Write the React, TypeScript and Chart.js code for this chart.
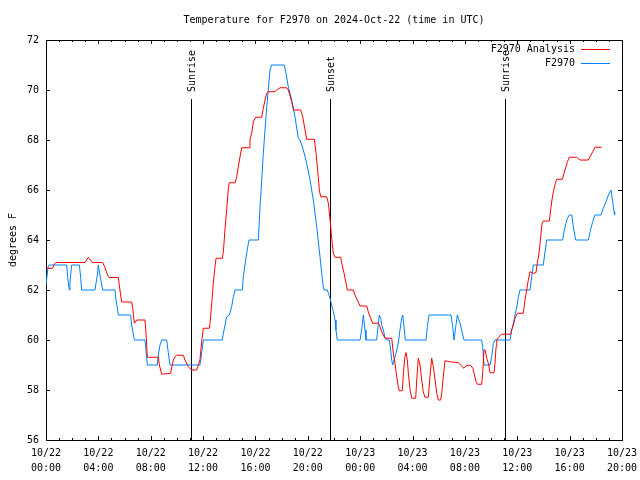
import React, { useEffect, useRef } from "react";
import { Chart, registerables } from "chart.js";

Chart.register(...registerables);

const TITLE = "Temperature for F2970 on 2024-Oct-22 (time in UTC)";
const Y_LABEL = "degrees F";
const SERIES_NAMES = ["F2970 Analysis", "F2970"];
const SERIES_COLORS = ["#ff0000", "#0080ff"];

const X_TICK_HOURS = [0, 4, 8, 12, 16, 20, 24, 28, 32, 36, 40, 44];
const X_TICK_DATES = ["10/22", "10/22", "10/22", "10/22", "10/22", "10/22", "10/23", "10/23", "10/23", "10/23", "10/23", "10/23"];
const X_TICK_TIMES = ["00:00", "04:00", "08:00", "12:00", "16:00", "20:00", "00:00", "04:00", "08:00", "12:00", "16:00", "20:00"];

const EVENT_NAMES = ["Sunrise", "Sunset", "Sunrise"];
const EVENT_HOURS = [11.1, 21.72, 35.08];

// hours since 10/22 00:00 UTC
const ANALYSIS_HOURS = [
  0.0, 0.5, 0.6, 0.76, 2.98, 3.23, 3.56, 4.33, 4.5, 4.7, 4.81, 5.53, 5.6, 5.7, 5.78, 6.54, 6.62, 6.75, 6.93, 7.56,
  7.65, 7.74, 8.58, 8.66, 8.84, 9.52, 9.6, 9.73, 9.85, 9.98, 10.49, 10.62, 10.87, 11.13, 11.51, 11.64, 11.76, 11.89, 12.02, 12.48,
  12.53, 12.66, 12.78, 12.91, 12.99, 13.47, 13.55, 13.67, 13.8, 13.93, 14.0, 14.44, 14.57, 14.69, 14.82, 14.95, 15.51, 15.58, 15.71, 15.84,
  16.02, 16.48, 16.6, 16.73, 16.86, 16.98, 17.49, 17.62, 17.88, 18.38, 18.51, 18.77, 18.9, 19.46, 19.61, 19.79, 19.91, 20.5, 20.63, 20.73,
  20.8, 20.88, 20.98, 21.44, 21.57, 21.7, 21.82, 21.95, 22.08, 22.51, 22.59, 22.77, 22.92, 23.02, 23.48, 23.6, 23.78, 23.99, 24.5, 24.62,
  24.75, 24.96, 25.39, 25.52, 25.64, 25.9, 26.41, 26.53, 26.66, 26.79, 26.91, 26.99, 27.22, 27.3, 27.42, 27.5, 27.6, 27.68, 27.81, 27.94,
  28.24, 28.32, 28.44, 28.57, 28.7, 28.82, 28.95, 29.21, 29.33, 29.46, 29.59, 29.72, 29.85, 29.97, 30.15, 30.23, 30.35, 30.48, 30.86, 31.5,
  31.75, 31.93, 32.14, 32.44, 32.6, 32.7, 32.85, 32.95, 33.28, 33.36, 33.46, 33.54, 33.67, 33.79, 33.92, 34.22, 34.3, 34.38, 34.43, 34.56,
  34.81, 35.5, 35.57, 35.7, 35.83, 36.01, 36.46, 36.59, 36.72, 36.84, 36.97, 37.23, 37.43, 37.53, 37.66, 37.79, 37.89, 37.99, 38.45, 38.55,
  38.65, 38.76, 38.91, 39.01, 39.45, 39.57, 39.72, 39.83, 39.98, 40.54, 40.79, 41.43, 41.56, 41.76, 41.94, 42.45,
];
const ANALYSIS_TEMPS = [
  62.87, 62.87, 63.0, 63.1, 63.1, 63.3, 63.1, 63.1, 62.9, 62.6, 62.5, 62.5, 62.2, 61.8, 61.52, 61.52, 61.3, 60.67, 60.8, 60.8,
  60.2, 59.31, 59.31, 59.0, 58.63, 58.67, 58.9, 59.2, 59.33, 59.39, 59.39, 59.2, 58.93, 58.8, 58.8, 59.0, 59.2, 59.93, 60.47, 60.47,
  60.67, 61.47, 62.27, 62.93, 63.27, 63.27, 63.53, 64.4, 65.2, 66.07, 66.29, 66.29, 66.53, 66.93, 67.33, 67.69, 67.69, 68.0, 68.27, 68.73,
  68.91, 68.91, 69.27, 69.6, 69.87, 69.93, 69.93, 70.0, 70.09, 70.09, 70.0, 69.53, 69.2, 69.2, 68.93, 68.4, 68.03, 68.03, 67.47, 66.93,
  66.53, 66.0, 65.73, 65.73, 65.47, 64.8, 64.1, 63.47, 63.31, 63.31, 63.07, 62.67, 62.27, 62.0, 62.0, 61.8, 61.6, 61.36, 61.36, 61.13,
  60.93, 60.67, 60.67, 60.53, 60.33, 60.07, 60.07, 59.47, 59.07, 58.53, 58.13, 57.97, 57.97, 58.67, 59.33, 59.5, 59.2, 58.67, 58.0, 57.67,
  57.67, 58.4, 59.27, 59.0, 58.4, 57.93, 57.71, 57.71, 58.53, 59.27, 58.93, 58.4, 57.87, 57.6, 57.6, 57.87, 58.53, 59.17, 59.13, 59.09,
  58.96, 58.87, 58.99, 58.99, 58.87, 58.67, 58.33, 58.23, 58.23, 58.67, 59.6, 59.6, 59.27, 59.07, 58.69, 58.69, 59.07, 59.73, 60.0, 60.11,
  60.23, 60.23, 60.4, 60.6, 60.87, 61.07, 61.07, 61.6, 62.0, 62.4, 62.73, 62.67, 62.69, 63.07, 63.47, 64.13, 64.67, 64.76, 64.76, 65.2,
  65.6, 65.93, 66.27, 66.43, 66.43, 66.67, 66.93, 67.13, 67.31, 67.31, 67.2, 67.2, 67.33, 67.53, 67.71, 67.71,
];

const OBS_HOURS = [
  0.0, 0.15, 0.25, 1.58, 1.66, 1.78, 1.83, 1.96, 2.55, 2.65, 2.72, 3.74, 3.92, 4.0, 4.12, 4.33, 5.27, 5.35, 5.53, 6.47,
  6.54, 6.75, 7.56, 7.64, 7.74, 8.5, 8.58, 8.71, 8.84, 9.22, 9.34, 9.47, 11.76, 11.82, 12.02, 13.47, 13.55, 13.8, 14.0, 14.18,
  14.31, 14.44, 15.0, 15.07, 15.33, 15.46, 15.51, 16.22, 16.35, 16.48, 16.6, 16.73, 16.86, 16.98, 17.11, 17.24, 18.2, 18.33, 18.51, 18.77,
  19.02, 19.27, 19.4, 19.66, 19.91, 20.17, 20.42, 20.68, 20.93, 21.06, 21.18, 21.24, 21.49, 21.57, 21.7, 21.82, 21.95, 22.08, 22.15, 22.25,
  23.99, 24.11, 24.24, 24.37, 24.44, 25.26, 25.39, 25.46, 25.57, 25.64, 25.77, 25.9, 26.03, 26.23, 26.33, 26.41, 26.48, 26.59, 26.74, 26.91,
  27.04, 27.17, 27.25, 27.35, 27.45, 29.03, 29.13, 29.26, 30.94, 31.07, 31.17, 31.3, 31.42, 31.63, 31.75, 31.93, 33.28, 33.36, 33.46, 33.92,
  34.05, 34.17, 34.3, 35.45, 35.57, 35.7, 35.83, 35.96, 36.08, 36.21, 36.97, 37.1, 37.23, 37.99, 38.12, 38.25, 39.47, 39.57, 39.72, 39.83,
  39.98, 40.16, 40.28, 40.46, 41.43, 41.56, 41.76, 41.94, 42.4, 42.57, 42.78, 42.96, 43.16, 43.29, 43.39, 43.44,
];
const OBS_TEMPS = [
  62.2, 62.9, 63.0, 63.0, 62.5, 62.0, 62.3, 63.0, 63.0, 62.5, 62.0, 62.0, 62.6, 63.0, 62.6, 62.0, 62.0, 61.6, 61.0, 61.0,
  60.6, 60.0, 60.0, 59.6, 59.0, 59.0, 59.4, 59.8, 60.0, 60.0, 59.5, 59.0, 59.0, 59.2, 60.0, 60.0, 60.27, 60.93, 61.0, 61.33,
  61.73, 62.0, 62.0, 62.53, 63.47, 63.87, 64.0, 64.0, 65.33, 66.4, 67.47, 68.4, 69.33, 70.0, 70.8, 71.0, 71.0, 70.67, 70.13, 69.6,
  68.93, 68.07, 68.0, 67.6, 67.07, 66.4, 65.6, 64.53, 63.33, 62.67, 62.13, 62.0, 62.0, 61.87, 61.67, 61.4, 61.13, 60.8, 60.4, 60.0,
  60.0, 60.4, 61.0, 60.4, 60.0, 60.0, 60.67, 61.0, 60.87, 60.6, 60.4, 60.07, 60.0, 60.0, 59.6, 59.2, 59.0, 59.2, 59.47, 59.87,
  60.4, 60.87, 61.0, 60.53, 60.0, 60.0, 60.53, 61.0, 61.0, 60.53, 60.0, 60.53, 61.0, 60.67, 60.4, 60.0, 60.0, 59.73, 59.0, 59.0,
  59.33, 59.87, 60.0, 60.0, 60.4, 60.67, 61.0, 61.3, 61.7, 62.0, 62.0, 62.53, 63.0, 63.0, 63.53, 64.0, 64.0, 64.33, 64.67, 64.87,
  65.0, 65.0, 64.53, 64.0, 64.0, 64.33, 64.73, 65.0, 65.0, 65.27, 65.53, 65.8, 66.0, 65.53, 65.13, 65.0,
];

const FONT_FAMILY = '"DejaVu Sans Mono", "Liberation Mono", monospace';
const FONT = "10px " + FONT_FAMILY;

function toPoints(hours: number[], temps: number[]) {
  return hours.map((h, i) => ({ x: h, y: temps[i] }));
}

const overlayPlugin = {
  id: "gnuplotOverlay",
  beforeDatasetsDraw(chart: any) {
    const { ctx, chartArea: a, scales } = chart;
    const xs = scales.x;
    const ys = scales.y;
    ctx.save();
    ctx.strokeStyle = "#000";
    ctx.lineWidth = 1;
    // border
    ctx.strokeRect(a.left + 0.5, a.top + 0.5, a.right - a.left, a.bottom - a.top);
    ctx.beginPath();
    // x ticks (major every 4h, minor every 1h), mirrored on top
    for (let h = xs.min; h <= xs.max; h += 1) {
      const px = Math.round(xs.getPixelForValue(h)) + 0.5;
      const len = X_TICK_HOURS.includes(h) ? 4 : 2;
      ctx.moveTo(px, a.bottom);
      ctx.lineTo(px, a.bottom - len);
      ctx.moveTo(px, a.top);
      ctx.lineTo(px, a.top + len);
    }
    // y ticks, mirrored on right
    for (let v = ys.min; v <= ys.max; v += 2) {
      const py = Math.round(ys.getPixelForValue(v)) + 0.5;
      ctx.moveTo(a.left, py);
      ctx.lineTo(a.left + 4, py);
      ctx.moveTo(a.right, py);
      ctx.lineTo(a.right - 4, py);
    }
    ctx.stroke();

    // sunrise / sunset markers
    const lineTop = a.bottom - 0.8525 * (a.bottom - a.top);
    ctx.font = FONT;
    ctx.fillStyle = "#000";
    EVENT_HOURS.forEach((h, i) => {
      const px = Math.round(xs.getPixelForValue(h)) + 0.5;
      ctx.beginPath();
      ctx.moveTo(px, a.bottom);
      ctx.lineTo(px, Math.round(lineTop));
      ctx.stroke();
      ctx.save();
      ctx.translate(px + 1, Math.round(lineTop) - 7);
      ctx.rotate(-Math.PI / 2);
      ctx.textAlign = "left";
      ctx.textBaseline = "middle";
      ctx.fillText(EVENT_NAMES[i], 0, 0);
      ctx.restore();
    });
    ctx.restore();
  },
  afterDraw(chart: any) {
    const { ctx, chartArea: a } = chart;
    ctx.save();
    ctx.font = FONT;
    ctx.fillStyle = "#000";
    ctx.textBaseline = "middle";
    // title
    ctx.textAlign = "center";
    ctx.fillText(TITLE, (a.left + a.right) / 2, 20);
    // legend
    ctx.textAlign = "right";
    SERIES_NAMES.forEach((name, i) => {
      const yy = 49 + i * 14;
      ctx.fillStyle = "#000";
      ctx.fillText(name, 575, yy);
      ctx.strokeStyle = SERIES_COLORS[i];
      ctx.lineWidth = 1;
      ctx.beginPath();
      ctx.moveTo(581, yy + 0.5);
      ctx.lineTo(610, yy + 0.5);
      ctx.stroke();
    });
    ctx.restore();
  },
};

export default function App() {
  const canvasRef = useRef<HTMLCanvasElement | null>(null);

  useEffect(() => {
    if (!canvasRef.current) return;
    const chart = new Chart(canvasRef.current, {
      type: "scatter",
      data: {
        datasets: [
          {
            label: SERIES_NAMES[0],
            data: toPoints(ANALYSIS_HOURS, ANALYSIS_TEMPS),
            showLine: true,
            borderColor: SERIES_COLORS[0],
            backgroundColor: SERIES_COLORS[0],
            borderWidth: 1,
            pointRadius: 0,
            tension: 0,
          },
          {
            label: SERIES_NAMES[1],
            data: toPoints(OBS_HOURS, OBS_TEMPS),
            showLine: true,
            borderColor: SERIES_COLORS[1],
            backgroundColor: SERIES_COLORS[1],
            borderWidth: 1,
            pointRadius: 0,
            tension: 0,
          },
        ],
      },
      options: {
        animation: false,
        responsive: false,
        devicePixelRatio: 1,
        layout: { padding: { top: 40, right: 18, left: 0, bottom: 0 } },
        plugins: {
          legend: { display: false },
          tooltip: { enabled: false },
          title: { display: false },
        },
        scales: {
          x: {
            type: "linear",
            min: 0,
            max: 44,
            afterFit: (s: any) => {
              s.height = 40;
              s.paddingLeft = 0;
              s.paddingRight = 0;
            },
            grid: { display: false, drawTicks: false },
            border: { display: false },
            ticks: {
              stepSize: 4,
              autoSkip: false,
              maxRotation: 0,
              minRotation: 0,
              padding: 6,
              color: "#000",
              font: { family: FONT_FAMILY, size: 10, lineHeight: 1.5 },
              callback: (v: any) => {
                const i = X_TICK_HOURS.indexOf(Number(v));
                return i >= 0 ? [X_TICK_DATES[i], X_TICK_TIMES[i]] : "";
              },
            },
          },
          y: {
            type: "linear",
            min: 56,
            max: 72,
            afterFit: (s: any) => {
              s.width = 46;
              s.paddingTop = 0;
              s.paddingBottom = 0;
            },
            grid: { display: false, drawTicks: false },
            border: { display: false },
            title: {
              display: true,
              text: Y_LABEL,
              color: "#000",
              font: { family: FONT_FAMILY, size: 10, lineHeight: 1.2 },
              padding: { top: 7, bottom: 0 },
            },
            ticks: {
              stepSize: 2,
              padding: 7,
              color: "#000",
              font: { family: FONT_FAMILY, size: 10 },
            },
          },
        },
      },
      plugins: [overlayPlugin],
    });
    return () => chart.destroy();
  }, []);

  return (
    <div style={{ position: "fixed", left: 0, top: 0, width: 640, height: 480, background: "#fff" }}>
      <canvas ref={canvasRef} width={640} height={480} />
    </div>
  );
}
